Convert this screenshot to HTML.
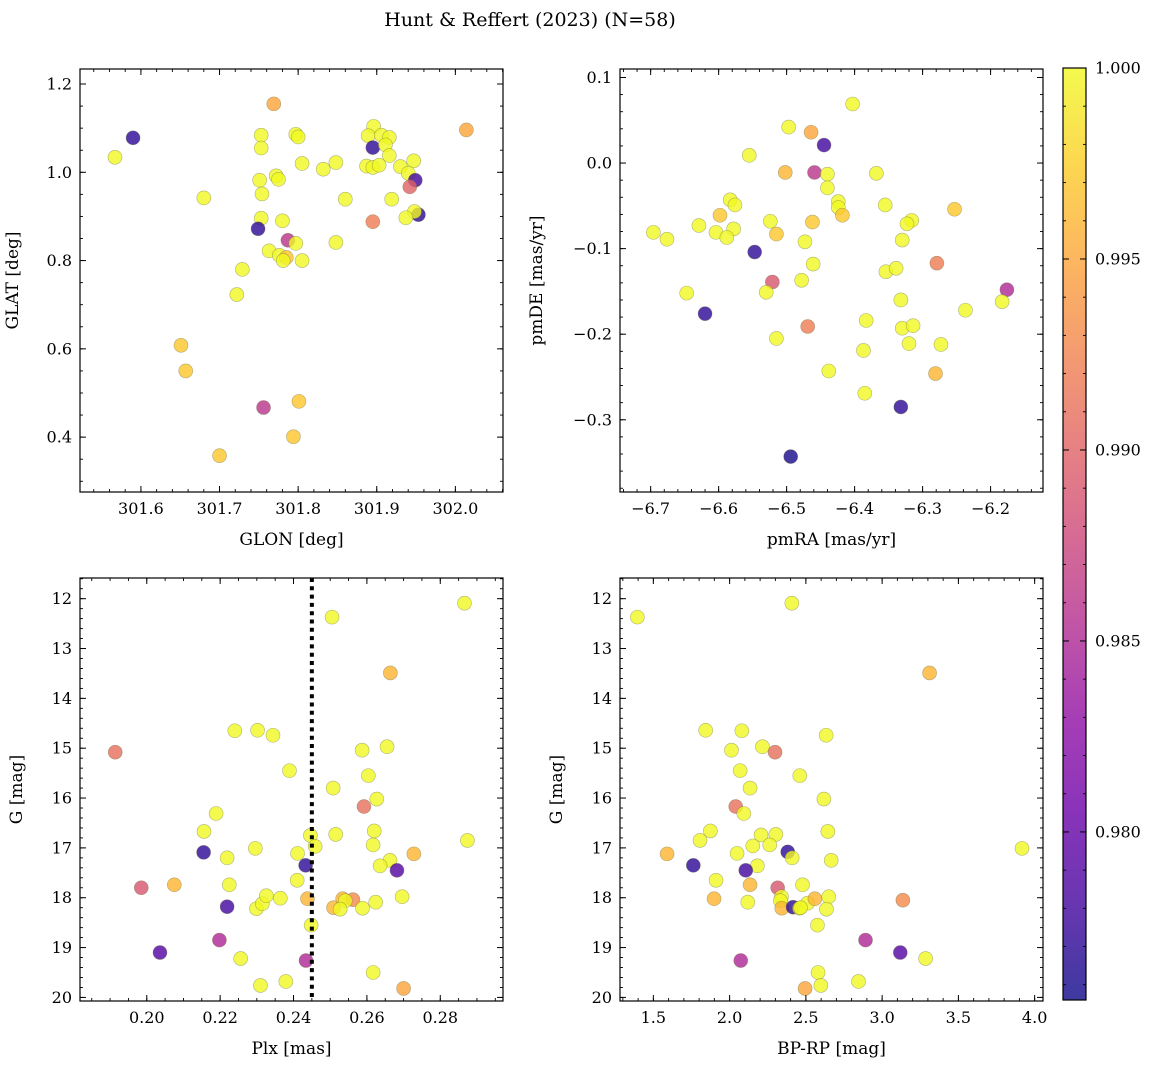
<!DOCTYPE html>
<html><head><meta charset="utf-8">
<style>
body{margin:0;background:#fff;}
svg{display:block;font-family:"DejaVu Serif","Liberation Serif",serif;}
</style></head>
<body>
<svg id="fig" width="1160" height="1068" viewBox="0 0 1160 1068" xmlns="http://www.w3.org/2000/svg">
<rect width="1160" height="1068" fill="#fff"/>
<text x="530" y="26" text-anchor="middle" font-size="19">Hunt &amp; Reffert (2023) (N=58)</text>
</svg>
<script>
// ---- Panel 1: GLON vs GLAT ----
const glon=[301.567,301.590,301.769,301.753,301.753,301.797,301.800,301.805,301.832,301.848,301.751,301.772,301.775,301.754,301.680,301.860,301.753,301.780,301.749,301.787,301.797,301.848,301.763,301.776,301.785,301.781,301.805,301.729,301.722,301.651,301.657,301.756,301.801,301.794,301.700,301.896,301.889,301.906,301.916,301.895,301.911,301.916,301.887,301.895,301.903,301.930,301.947,301.940,301.949,301.942,301.919,301.895,301.953,301.948,301.937,302.014];
const glat=[1.034,1.078,1.155,1.084,1.055,1.086,1.080,1.020,1.007,1.022,0.982,0.992,0.984,0.951,0.942,0.939,0.896,0.890,0.872,0.846,0.839,0.841,0.822,0.812,0.807,0.800,0.800,0.780,0.723,0.608,0.550,0.467,0.481,0.401,0.358,1.104,1.083,1.084,1.079,1.056,1.062,1.038,1.014,1.011,1.016,1.013,1.026,0.998,0.982,0.967,0.939,0.888,0.904,0.911,0.897,1.096];
const prob1=[1,0.977,0.995,1,1,1,1,1,1,1,1,1,1,1,1,1,1,1,0.977,0.986,1,1,1,1,0.997,1,1,1,1,0.997,0.997,0.986,0.997,0.997,0.997,1,1,1,1,0.977,1,1,1,1,1,1,1,1,0.978,0.990,1,0.992,0.977,1,1,0.995];
// ---- Panel 2: pmRA vs pmDE ----
const pmra=[-6.403,-6.497,-6.464,-6.445,-6.555,-6.502,-6.459,-6.440,-6.440,-6.368,-6.583,-6.576,-6.424,-6.424,-6.418,-6.355,-6.253,-6.598,-6.629,-6.696,-6.676,-6.604,-6.578,-6.588,-6.524,-6.515,-6.462,-6.473,-6.547,-6.461,-6.316,-6.323,-6.330,-6.279,-6.354,-6.339,-6.521,-6.478,-6.530,-6.647,-6.620,-6.332,-6.176,-6.183,-6.237,-6.383,-6.469,-6.330,-6.314,-6.515,-6.320,-6.273,-6.387,-6.281,-6.438,-6.385,-6.332,-6.494];
const pmde=[0.069,0.042,0.036,0.021,0.009,-0.011,-0.011,-0.013,-0.029,-0.012,-0.043,-0.049,-0.045,-0.052,-0.061,-0.049,-0.054,-0.061,-0.073,-0.081,-0.089,-0.081,-0.077,-0.087,-0.068,-0.083,-0.069,-0.092,-0.104,-0.118,-0.067,-0.071,-0.090,-0.117,-0.127,-0.123,-0.139,-0.137,-0.151,-0.152,-0.176,-0.160,-0.148,-0.162,-0.172,-0.184,-0.191,-0.193,-0.190,-0.205,-0.211,-0.212,-0.219,-0.246,-0.243,-0.269,-0.285,-0.343];
const prob2=[1,1,0.995,0.978,1,0.996,0.986,1,1,1,1,1,1,1,0.997,1,0.997,0.997,1,1,1,1,1,1,1,0.997,0.997,1,0.977,1,1,1,1,0.992,1,1,0.989,1,1,1,0.977,1,0.985,1,1,1,0.992,1,1,1,1,1,1,0.996,1,1,0.977,0.976];
// ---- Panel 3: Plx vs G ----
const plx=[0.2866,0.2505,0.2664,0.1914,0.2240,0.2302,0.2344,0.2587,0.2655,0.2389,0.2604,0.2508,0.2627,0.2592,0.2189,0.2156,0.2446,0.2515,0.2620,0.2617,0.2459,0.2874,0.2155,0.2296,0.2219,0.2411,0.2728,0.2433,0.2663,0.2636,0.2682,0.1985,0.2075,0.2225,0.2410,0.2219,0.2299,0.2315,0.2326,0.2364,0.2438,0.2509,0.2534,0.2562,0.2541,0.2527,0.2588,0.2624,0.2696,0.2448,0.2198,0.2036,0.2256,0.2434,0.2617,0.2379,0.2310,0.2700];
const g3=[12.09,12.37,13.49,15.08,14.65,14.64,14.74,15.04,14.97,15.45,15.55,15.80,16.02,16.17,16.31,16.67,16.75,16.73,16.66,16.94,16.97,16.85,17.09,17.01,17.20,17.11,17.12,17.35,17.25,17.36,17.45,17.80,17.74,17.74,17.65,18.18,18.22,18.12,17.96,18.01,18.02,18.20,18.02,18.04,18.06,18.23,18.21,18.09,17.98,18.55,18.85,19.10,19.22,19.26,19.50,19.68,19.76,19.82];
const prob3=[1,1,0.996,0.991,1,1,1,1,1,1,1,1,1,0.991,1,1,1,1,1,1,1,1,0.977,1,1,1,0.996,0.977,1,1,0.979,0.989,0.996,1,1,0.978,1,1,1,1,0.996,0.996,0.996,0.993,1,1,1,1,1,1,0.985,0.979,1,0.985,1,1,1,0.995];
const plxLine=[0.245];
// ---- Panel 4: BP-RP vs G ----
const bprp=[1.395,2.408,3.311,1.843,2.080,2.633,2.012,2.215,2.298,2.069,2.460,2.134,2.618,2.040,2.093,1.874,1.806,2.206,2.303,2.644,2.152,2.263,3.917,1.590,2.049,2.381,2.410,2.666,1.762,2.182,2.106,1.911,2.134,2.315,2.478,1.898,2.119,2.340,2.333,2.342,2.416,2.458,2.511,2.559,2.650,2.635,3.136,2.576,2.891,3.119,3.285,2.073,2.580,2.845,2.598,2.495,2.465];
const g4=[12.37,12.09,13.49,14.64,14.65,14.74,15.04,14.97,15.08,15.45,15.55,15.80,16.02,16.17,16.31,16.66,16.85,16.74,16.73,16.67,16.96,16.94,17.01,17.12,17.11,17.08,17.20,17.25,17.35,17.36,17.45,17.65,17.74,17.80,17.74,18.02,18.09,17.98,18.06,18.21,18.19,18.21,18.11,18.02,17.98,18.23,18.05,18.55,18.85,19.10,19.22,19.26,19.50,19.68,19.76,19.82,18.20];
const prob4=[1,1,0.996,1,1,1,1,1,0.991,1,1,1,1,0.991,1,1,1,1,1,1,1,1,1,0.996,1,0.977,1,1,0.977,1,0.978,1,0.996,0.989,1,0.996,1,1,1,0.996,0.977,1,1,0.996,1,1,0.993,1,0.985,0.979,1,0.985,1,1,1,0.995,1];
// ---- ticks ----
const p1xTicks=[301.6,301.7,301.8,301.9,302.0], p1xLabels=["301.6","301.7","301.8","301.9","302.0"];
const p1yTicks=[0.4,0.6,0.8,1.0,1.2], p1yLabels=["0.4","0.6","0.8","1.0","1.2"];
const p2xTicks=[-6.7,-6.6,-6.5,-6.4,-6.3,-6.2], p2xLabels=["\u22126.7","\u22126.6","\u22126.5","\u22126.4","\u22126.3","\u22126.2"];
const p2yTicks=[0.1,0.0,-0.1,-0.2,-0.3], p2yLabels=["0.1","0.0","\u22120.1","\u22120.2","\u22120.3"];
const p3xTicks=[0.20,0.22,0.24,0.26,0.28], p3xLabels=["0.20","0.22","0.24","0.26","0.28"];
const gTicks=[12,13,14,15,16,17,18,19,20], gLabels=["12","13","14","15","16","17","18","19","20"];
const p4xTicks=[1.5,2.0,2.5,3.0,3.5,4.0], p4xLabels=["1.5","2.0","2.5","3.0","3.5","4.0"];
const cbTicks=[1.000,0.995,0.990,0.985,0.980], cbLabels=["1.000","0.995","0.990","0.985","0.980"];
const cbMin=0.9756, cbMax=1.0;

const NS="http://www.w3.org/2000/svg";
const svg=document.getElementById('fig');
function mk(tag,attrs,parent){const e=document.createElementNS(NS,tag);for(const k in attrs)e.setAttribute(k,attrs[k]);(parent||svg).appendChild(e);return e;}
const stops=["#0d0887","#41049d","#6a00a8","#8f0da4","#b12a90","#cc4778","#e16462","#f2844b","#fca636","#fcce25","#f0f921"];
function hex(h){return [parseInt(h.substr(1,2),16),parseInt(h.substr(3,2),16),parseInt(h.substr(5,2),16)];}
function plasma(t){t=Math.max(0,Math.min(1,t));const f=t*10,i=Math.min(9,Math.floor(f)),r=f-i;const a=hex(stops[i]),b=hex(stops[i+1]);return 'rgb('+a.map((v,k)=>Math.round(v+(b[k]-v)*r)).join(',')+')';}
function cmap(p){return plasma((p-cbMin)/(cbMax-cbMin));}

function panel(o){
  const g=mk('g',{});
  
  
  const sx=v=>o.L+(v-o.xd[0])/(o.xd[1]-o.xd[0])*o.W;
  const sy=v=>o.T+(v-o.yd[0])/(o.yd[1]-o.yd[0])*o.H;
  // points
  const pg=mk('g',{},g);
  
  
  for(let i=0;i<o.x.length;i++){
    const c=mk('circle',{cx:sx(o.x[i]),cy:sy(o.y[i]),r:7,fill:cmap(o.c[i]),'fill-opacity':0.8,stroke:'#6b6b40','stroke-opacity':0.5,'stroke-width':0.6},pg);
    
    
  }
  if(o.vline){for(const v of o.vline){const l=mk('line',{x1:sx(v),x2:sx(v),y1:o.T,y2:o.T+o.H,stroke:'#000','stroke-width':4,'stroke-dasharray':'4,4.3'},g);
    
    }}
  // frame
  const fr=mk('rect',{x:o.L,y:o.T,width:o.W,height:o.H,fill:'none',stroke:'#000','stroke-width':1.2},g);
  
  
  // minor ticks
  const lo=Math.min(...o.xd),hi=Math.max(...o.xd);
  for(let v=Math.ceil(lo/o.xm-1e-6)*o.xm;v<=hi+1e-9;v+=o.xm){const X=sx(v);
    mk('line',{x1:X,x2:X,y1:o.T+o.H,y2:o.T+o.H-3,stroke:'#000','stroke-width':0.9},g);
    mk('line',{x1:X,x2:X,y1:o.T,y2:o.T+3,stroke:'#000','stroke-width':0.9},g);}
  const ylo=Math.min(...o.yd),yhi=Math.max(...o.yd);
  for(let v=Math.ceil(ylo/o.ym-1e-6)*o.ym;v<=yhi+1e-9;v+=o.ym){const Y=sy(v);
    mk('line',{x1:o.L,x2:o.L+3,y1:Y,y2:Y,stroke:'#000','stroke-width':0.9},g);
    mk('line',{x1:o.L+o.W,x2:o.L+o.W-3,y1:Y,y2:Y,stroke:'#000','stroke-width':0.9},g);}
  o.xt.forEach((v,i)=>{const X=sx(v);
    mk('line',{x1:X,x2:X,y1:o.T+o.H,y2:o.T+o.H-6,stroke:'#000','stroke-width':1},g);
    mk('line',{x1:X,x2:X,y1:o.T,y2:o.T+6,stroke:'#000','stroke-width':1},g);
    const t=mk('text',{x:X,y:o.T+o.H+22,'text-anchor':'middle','font-size':16},g);t.textContent=o.xl[i];
    
    });
  o.yt.forEach((v,i)=>{const Y=sy(v);
    mk('line',{x1:o.L,x2:o.L+6,y1:Y,y2:Y,stroke:'#000','stroke-width':1},g);
    mk('line',{x1:o.L+o.W,x2:o.L+o.W-6,y1:Y,y2:Y,stroke:'#000','stroke-width':1},g);
    const t=mk('text',{x:o.L-8,y:Y+5.5,'text-anchor':'end','font-size':16},g);t.textContent=o.yl[i];
    
    });
  const xt=mk('text',{x:o.L+o.W/2,y:o.T+o.H+53,'text-anchor':'middle','font-size':17},g);xt.textContent=o.xlab;
  
  
  const yx=o.L-o.ylabOff, yy=o.T+o.H/2;
  const yt=mk('text',{x:yx,y:yy,'text-anchor':'middle','font-size':17,transform:'rotate(-90 '+yx+' '+yy+')'},g);yt.textContent=o.ylab;
  
  
}
panel({name:'glon-glat-panel',L:80,T:69,W:423,H:423,xd:[301.5225,302.0606],yd:[1.234,0.2757],x:glon,y:glat,c:prob1,xt:p1xTicks,xl:p1xLabels,yt:p1yTicks,yl:p1yLabels,xm:0.02,ym:0.05,xlab:'GLON [deg]',ylab:'GLAT [deg]',ylabOff:62});
panel({name:'proper-motion-panel',L:620,T:69,W:423,H:423,xd:[-6.7451,-6.1229],yd:[0.1099,-0.3844],x:pmra,y:pmde,c:prob2,xt:p2xTicks,xl:p2xLabels,yt:p2yTicks,yl:p2yLabels,xm:0.02,ym:0.02,xlab:'pmRA [mas/yr]',ylab:'pmDE [mas/yr]',ylabOff:78});
panel({name:'parallax-magnitude-panel',L:80,T:578,W:423,H:423,xd:[0.1818,0.2971],yd:[11.585,20.072],x:plx,y:g3,c:prob3,xt:p3xTicks,xl:p3xLabels,yt:gTicks,yl:gLabels,xm:0.005,ym:0.2,xlab:'Plx [mas]',ylab:'G [mag]',ylabOff:58,vline:plxLine});
panel({name:'color-magnitude-panel',L:620,T:578,W:423,H:423,xd:[1.2813,4.0547],yd:[11.585,20.072],x:bprp,y:g4,c:prob4,xt:p4xTicks,xl:p4xLabels,yt:gTicks,yl:gLabels,xm:0.1,ym:0.2,xlab:'BP-RP [mag]',ylab:'G [mag]',ylabOff:58});

// colorbar
const cb=mk('g',{});


const CL=1063,CT=68,CW=23,CH=932;
const defs=mk('defs',{},cb);
const lg=mk('linearGradient',{id:'cbg',x1:0,y1:1,x2:0,y2:0},defs);
for(let i=0;i<=20;i++){const t=i/20;const c=plasma(t);mk('stop',{offset:t,'stop-color':c,'stop-opacity':0.8},lg);}
mk('rect',{x:CL,y:CT,width:CW,height:CH,fill:'url(#cbg)',stroke:'#000','stroke-width':1.2},cb);
const cy=v=>CT+(cbMax-v)/(cbMax-cbMin)*CH;
for(let v=0.976;v<=1.00001;v+=0.001){const Y=cy(v);mk('line',{x1:CL+CW,x2:CL+CW-3,y1:Y,y2:Y,stroke:'#000','stroke-width':0.9},cb);mk('line',{x1:CL,x2:CL+3,y1:Y,y2:Y,stroke:'#000','stroke-width':0.9},cb);}
cbTicks.forEach((v,i)=>{const Y=cy(v);
  mk('line',{x1:CL+CW,x2:CL+CW-6,y1:Y,y2:Y,stroke:'#000','stroke-width':1},cb);
  mk('line',{x1:CL,x2:CL+6,y1:Y,y2:Y,stroke:'#000','stroke-width':1},cb);
  const t=mk('text',{x:CL+CW+9,y:Y+5.5,'font-size':16},cb);t.textContent=cbLabels[i];
  
  });
</script>
</body></html>
